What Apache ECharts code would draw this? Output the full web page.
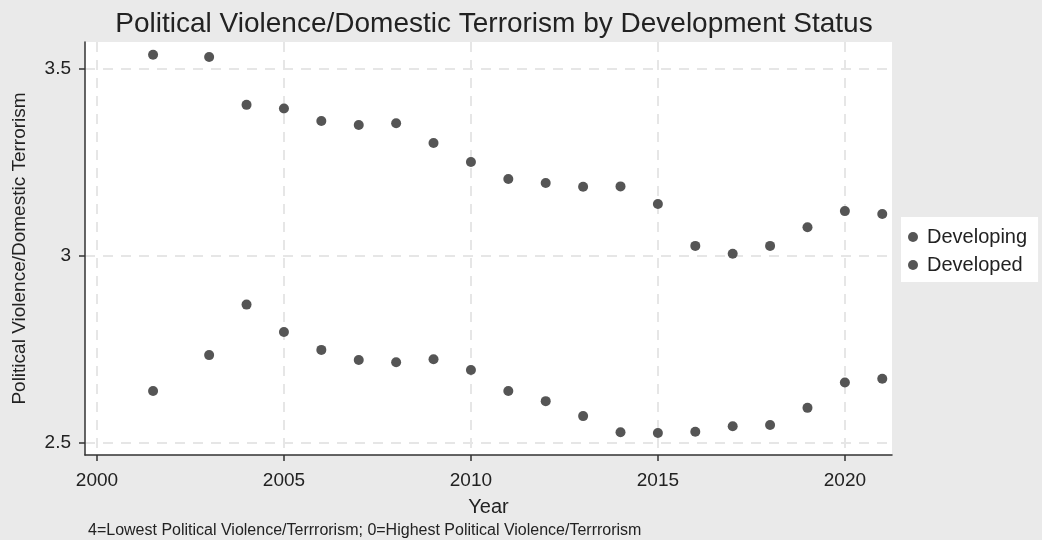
<!DOCTYPE html>
<html>
<head>
<meta charset="utf-8">
<title>Political Violence by Development Status</title>
<script src="https://cdn.jsdelivr.net/npm/echarts@6/dist/echarts.min.js"></script>
<style>
  html, body { margin: 0; padding: 0; background: #eaeaea; }
  #chart { width: 1042px; height: 540px; }
</style>
</head>
<body>
<div id="chart"></div>
<script>
// years observed (first survey falls mid 2001)
var years = [2001.5, 2003, 2004, 2005, 2006, 2007, 2008, 2009, 2010, 2011,
  2012, 2013, 2014, 2015, 2016, 2017, 2018, 2019, 2020, 2021]

var developing = [2.639, 2.735, 2.870, 2.797, 2.749, 2.722, 2.716, 2.724, 2.695, 2.639,
  2.612, 2.572, 2.529, 2.527, 2.530, 2.545, 2.548, 2.594, 2.662, 2.672]

var developed = [3.538, 3.532, 3.404, 3.394, 3.361, 3.350, 3.355, 3.302, 3.251, 3.206,
  3.195, 3.185, 3.186, 3.139, 3.027, 3.006, 3.027, 3.077, 3.120, 3.112]

var xTicks = [2000, 2005, 2010, 2015, 2020]
var yTicks = [2.5, 3, 3.5]

var font = 'Liberation Sans, Arial, sans-serif'
var dotColor = '#555555'

function pairs(xs, ys) {
  return xs.map(function (x, i) { return [x, ys[i]] })
}

var chart = echarts.init(document.getElementById('chart'))

chart.setOption({
  backgroundColor: '#eaeaea',
  animation: false,
  textStyle: { fontFamily: font },
  title: {
    text: 'Political Violence/Domestic Terrorism by Development Status',
    left: 489,
    textAlign: 'center',
    top: 5,
    textStyle: { fontSize: 28, fontWeight: 'normal', color: '#222', fontFamily: font }
  },
  graphic: [
    {
      type: 'text',
      left: 88,
      top: 523,
      style: {
        text: '4=Lowest Political Violence/Terrrorism; 0=Highest Political Violence/Terrrorism',
        fontSize: 16,
        fill: '#222',
        fontFamily: font
      }
    }
  ],
  legend: {
    orient: 'vertical',
    left: 901,
    top: 217,
    padding: [10, 11, 7, 7],
    itemGap: 8,
    itemWidth: 10,
    itemHeight: 10,
    icon: 'circle',
    backgroundColor: '#ffffff',
    textStyle: { fontSize: 20, color: '#222', fontFamily: font, padding: [0, 0, 0, 4] },
    data: ['Developing', 'Developed']
  },
  grid: {
    left: 85,
    right: 150,
    top: 42,
    bottom: 85,
    show: true,
    backgroundColor: '#ffffff',
    borderWidth: 0
  },
  xAxis: {
    type: 'value',
    min: 1999.68,
    max: 2021.26,
    name: 'Year',
    nameLocation: 'middle',
    nameGap: 42,
    nameTextStyle: { fontSize: 20, color: '#222', fontFamily: font },
    axisLine: { show: true, onZero: false, lineStyle: { color: '#333', width: 1.5 } },
    axisTick: { show: true, length: 6, customValues: xTicks, lineStyle: { color: '#333', width: 1.5 } },
    axisLabel: {
      customValues: xTicks,
      fontSize: 19,
      color: '#222',
      margin: 16,
      fontFamily: font,
      formatter: function (v) { return String(v) }
    },
    splitLine: { show: true, lineStyle: { color: '#e6e6e6', width: 2, type: [10, 8] } }
  },
  yAxis: {
    type: 'value',
    min: 2.468,
    max: 3.572,
    name: 'Political Violence/Domestic Terrorism',
    nameLocation: 'middle',
    nameGap: 56,
    nameTextStyle: { fontSize: 19, color: '#222', fontFamily: font },
    axisLine: { show: true, onZero: false, lineStyle: { color: '#333', width: 1.5 } },
    axisTick: { show: true, length: 6, customValues: yTicks, lineStyle: { color: '#333', width: 1.5 } },
    axisLabel: {
      customValues: yTicks,
      fontSize: 19,
      color: '#222',
      margin: 14,
      fontFamily: font,
      formatter: function (v) { return String(v) }
    },
    splitLine: { show: true, lineStyle: { color: '#e6e6e6', width: 2, type: [10, 8] } }
  },
  series: [
    {
      name: 'Developing',
      type: 'scatter',
      symbolSize: 10,
      itemStyle: { color: dotColor, opacity: 1 },
      data: pairs(years, developing)
    },
    {
      name: 'Developed',
      type: 'scatter',
      symbolSize: 10,
      itemStyle: { color: dotColor, opacity: 1 },
      data: pairs(years, developed)
    }
  ]
})
</script>
</body>
</html>
